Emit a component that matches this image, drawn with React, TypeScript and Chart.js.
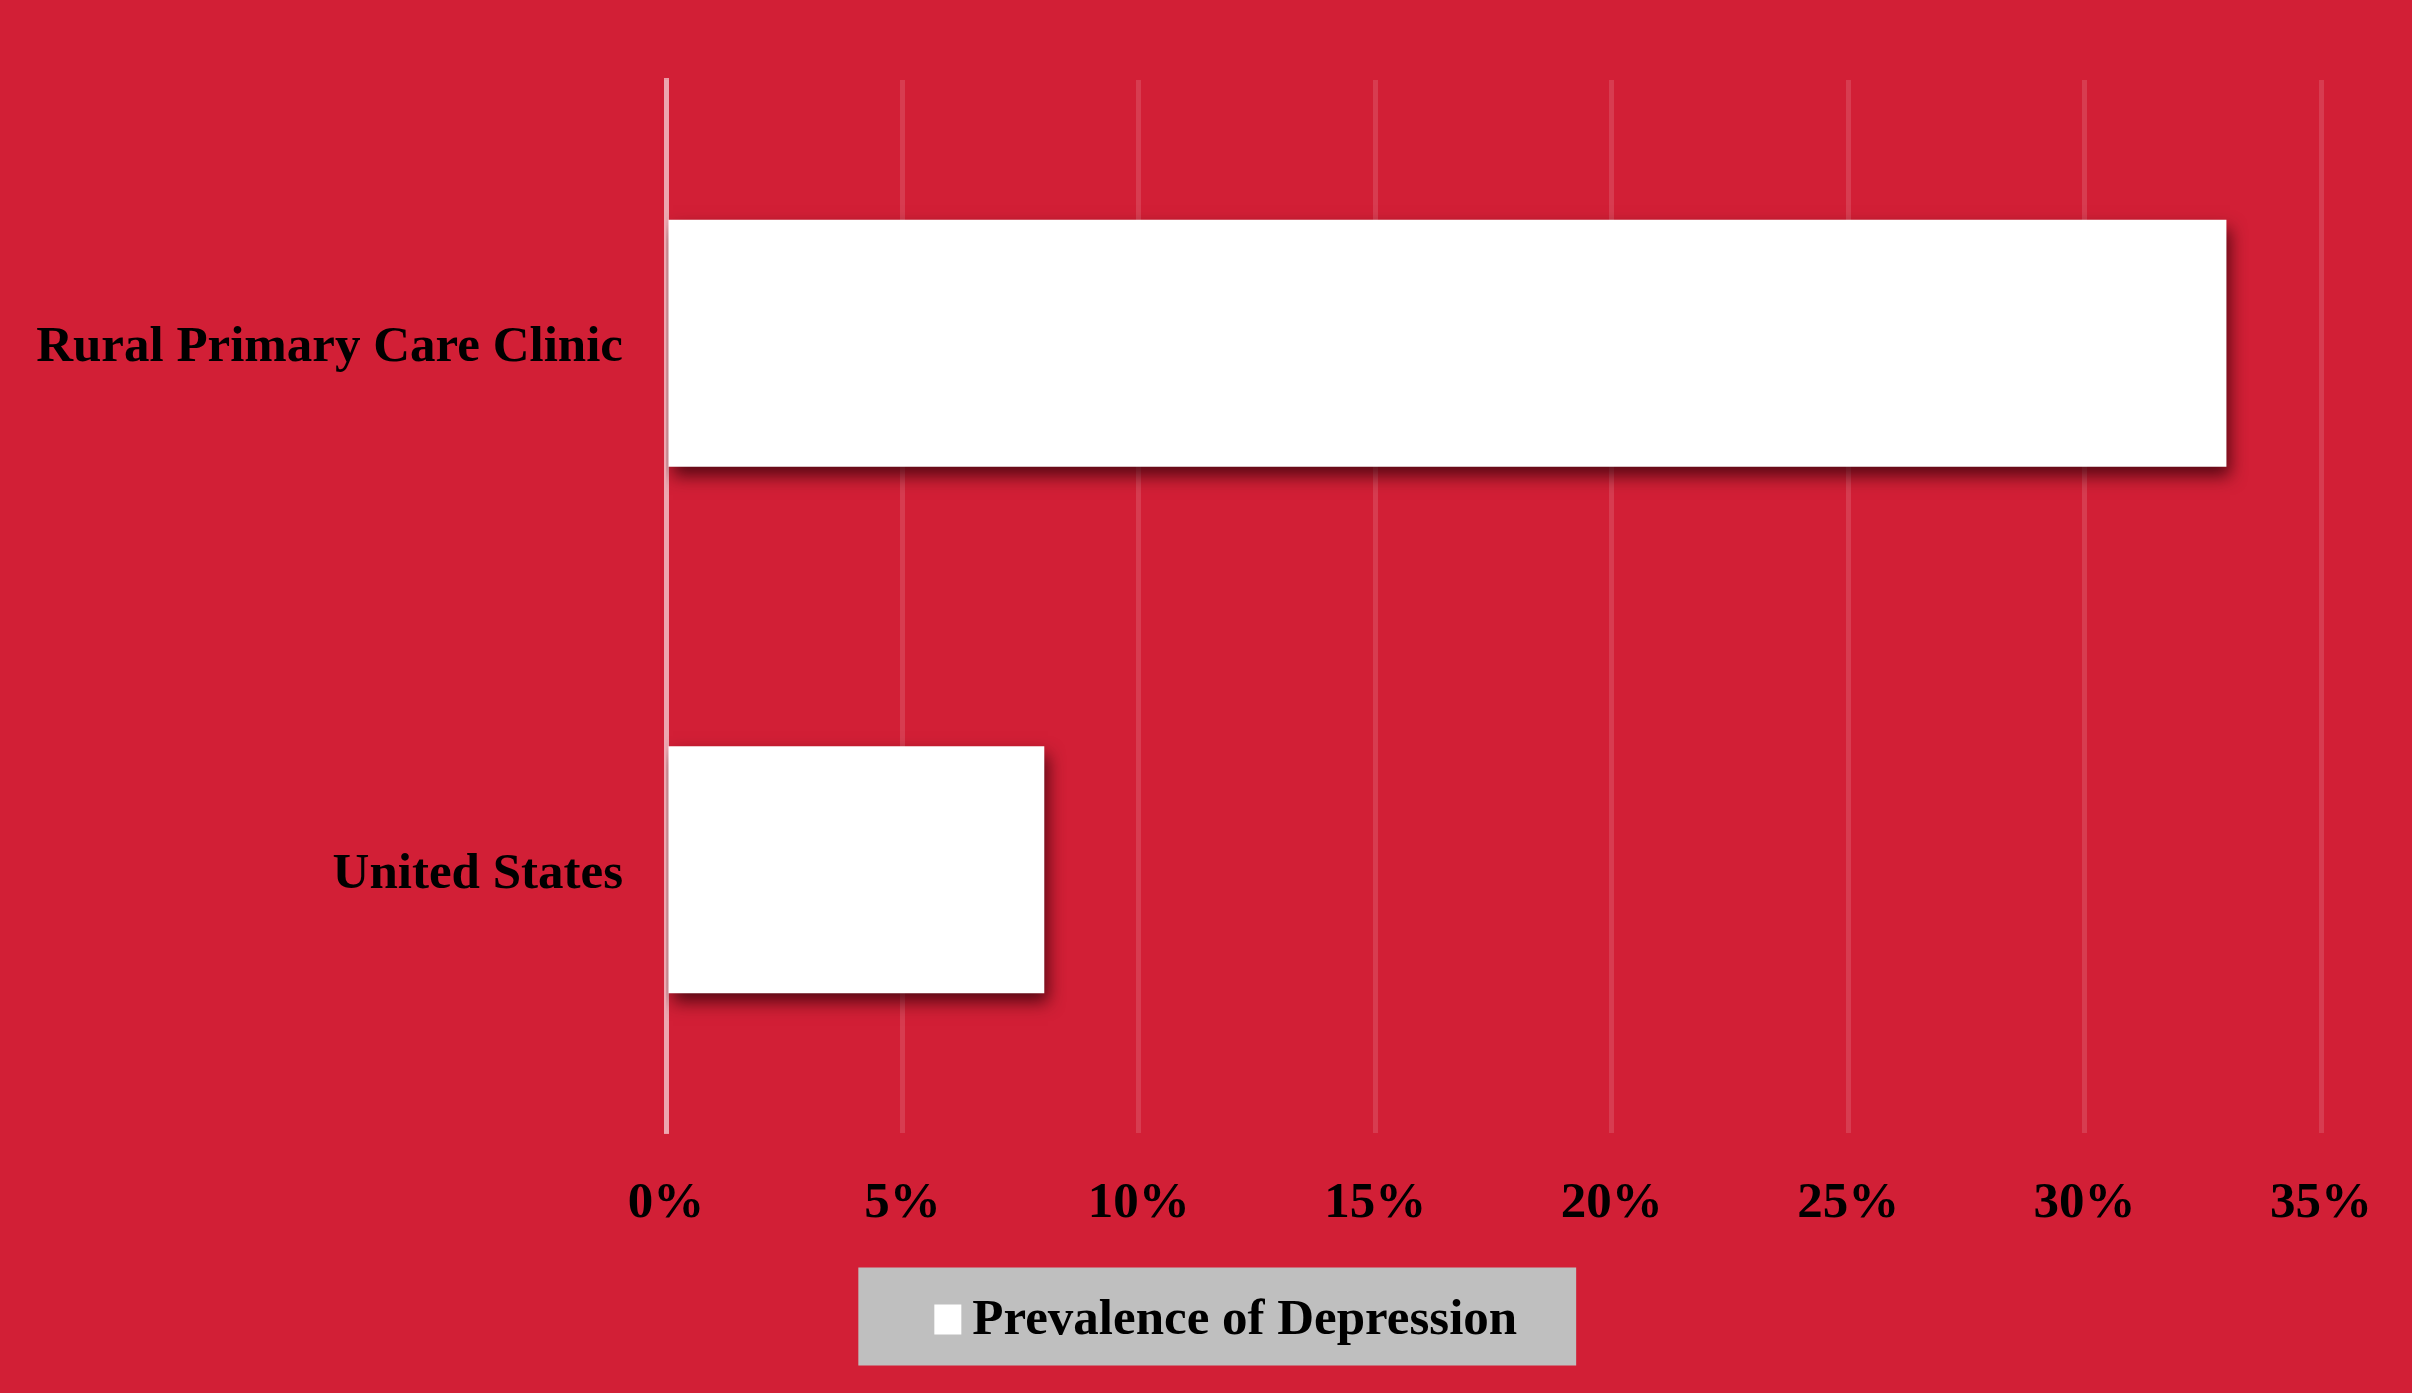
import React, { useEffect, useRef } from "react";
import { Chart, registerables } from "chart.js";

Chart.register(...registerables);

// Data
const categories = ["Rural Primary Care Clinic", "United States"];
const prevalence = [33, 8]; // percent
const seriesLabel = "Prevalence of Depression";
const axisMax = 35;
const axisStep = 5;

const BACKGROUND = "#D21F36";
const LEGEND_PANEL = "#BFBFBF";
const FONT_FAMILY = "'Liberation Serif', 'Times New Roman', serif";
const FONT_SIZE = 51;
const LEGEND_BOX_W = 28;

// Paints the red page, the grey legend panel and the legend swatch
const backgroundPlugin = {
  id: "pageBackground",
  afterLayout(chart: any) {
    // centre the legend on the page rather than on the padded area
    const legend = chart.legend;
    if (legend) {
      legend.left += 57;
      legend.right += 57;
    }
  },
  beforeDraw(chart: any) {
    const { ctx, width, height } = chart;
    ctx.save();
    ctx.fillStyle = BACKGROUND;
    ctx.fillRect(0, 0, width, height);
    const legend = chart.legend;
    if (legend && legend.legendHitBoxes && legend.legendHitBoxes.length) {
      const hb = legend.legendHitBoxes[0];
      const textStart = hb.left + LEGEND_BOX_W + FONT_SIZE / 2;
      const left = textStart - 114;
      const right = hb.left + hb.width + 59;
      const cy = hb.top + hb.height / 2;
      ctx.fillStyle = LEGEND_PANEL;
      ctx.fillRect(left, cy - 53, right - left, 98);
      const ds = chart.data.datasets[0];
      ctx.fillStyle = ds.backgroundColor;
      ctx.fillRect(textStart - 38, cy - 16, 27, 30);
    }
    ctx.restore();
  },
};

// Soft drop shadow under the bars
const barShadowPlugin = {
  id: "barShadow",
  beforeDatasetsDraw(chart: any) {
    const c = chart.ctx;
    c.save();
    c.shadowColor = "rgba(45, 0, 8, 0.75)";
    c.shadowBlur = 16;
    c.shadowOffsetX = 4;
    c.shadowOffsetY = 9;
  },
  afterDatasetsDraw(chart: any) {
    chart.ctx.restore();
  },
};

export default function App() {
  const canvasRef = useRef<HTMLCanvasElement>(null);

  useEffect(() => {
    document.body.style.margin = "0";
    const canvas = canvasRef.current;
    if (!canvas) return;

    const chart = new Chart(canvas, {
      type: "bar",
      data: {
        labels: categories,
        datasets: [
          {
            label: seriesLabel,
            data: prevalence,
            backgroundColor: "#FFFFFF",
            borderWidth: 0,
            categoryPercentage: 1,
            barPercentage: 0.469,
          },
        ],
      },
      options: {
        indexAxis: "y",
        animation: false,
        responsive: true,
        maintainAspectRatio: false,
        devicePixelRatio: 1,
        events: [],
        layout: {
          padding: { top: 80, right: 90, bottom: 37, left: 0 },
        },
        scales: {
          x: {
            min: 0,
            max: axisMax,
            afterFit: (scale: any) => {
              scale.height = 152;
            },
            ticks: {
              stepSize: axisStep,
              padding: 40,
              maxRotation: 0,
              autoSkip: false,
              color: "#000000",
              font: { family: FONT_FAMILY, size: FONT_SIZE, weight: "bold" },
              callback: (v: any) => `${v}%`,
            },
            grid: {
              color: "rgba(255,255,255,0.13)",
              lineWidth: 5,
              drawTicks: false,
            },
            border: { display: false },
          },
          y: {
            afterFit: (scale: any) => {
              scale.width = 666;
            },
            ticks: {
              padding: 43,
              labelOffset: 5,
              color: "#000000",
              font: { family: FONT_FAMILY, size: FONT_SIZE, weight: "bold" },
            },
            grid: { display: false, drawTicks: false },
            border: {
              display: true,
              color: "rgba(255,255,255,0.55)",
              width: 5,
            },
          },
        },
        plugins: {
          legend: {
            display: true,
            position: "bottom",
            labels: {
              boxWidth: LEGEND_BOX_W,
              boxHeight: 30,
              padding: 10,
              color: "#000000",
              font: { family: FONT_FAMILY, size: FONT_SIZE, weight: "bold" },
              // the swatch is painted beside the text by pageBackground
              generateLabels: (chart: any) =>
                Chart.defaults.plugins.legend.labels
                  .generateLabels(chart)
                  .map((item: any) => ({
                    ...item,
                    fillStyle: "rgba(0,0,0,0)",
                    strokeStyle: "rgba(0,0,0,0)",
                    lineWidth: 0,
                  })),
            },
          },
          tooltip: { enabled: false },
          title: { display: false },
        },
      },
      plugins: [backgroundPlugin, barShadowPlugin],
    } as any);

    return () => chart.destroy();
  }, []);

  return (
    <div style={{ width: 2412, height: 1393, position: "relative" }}>
      <canvas ref={canvasRef} />
    </div>
  );
}
